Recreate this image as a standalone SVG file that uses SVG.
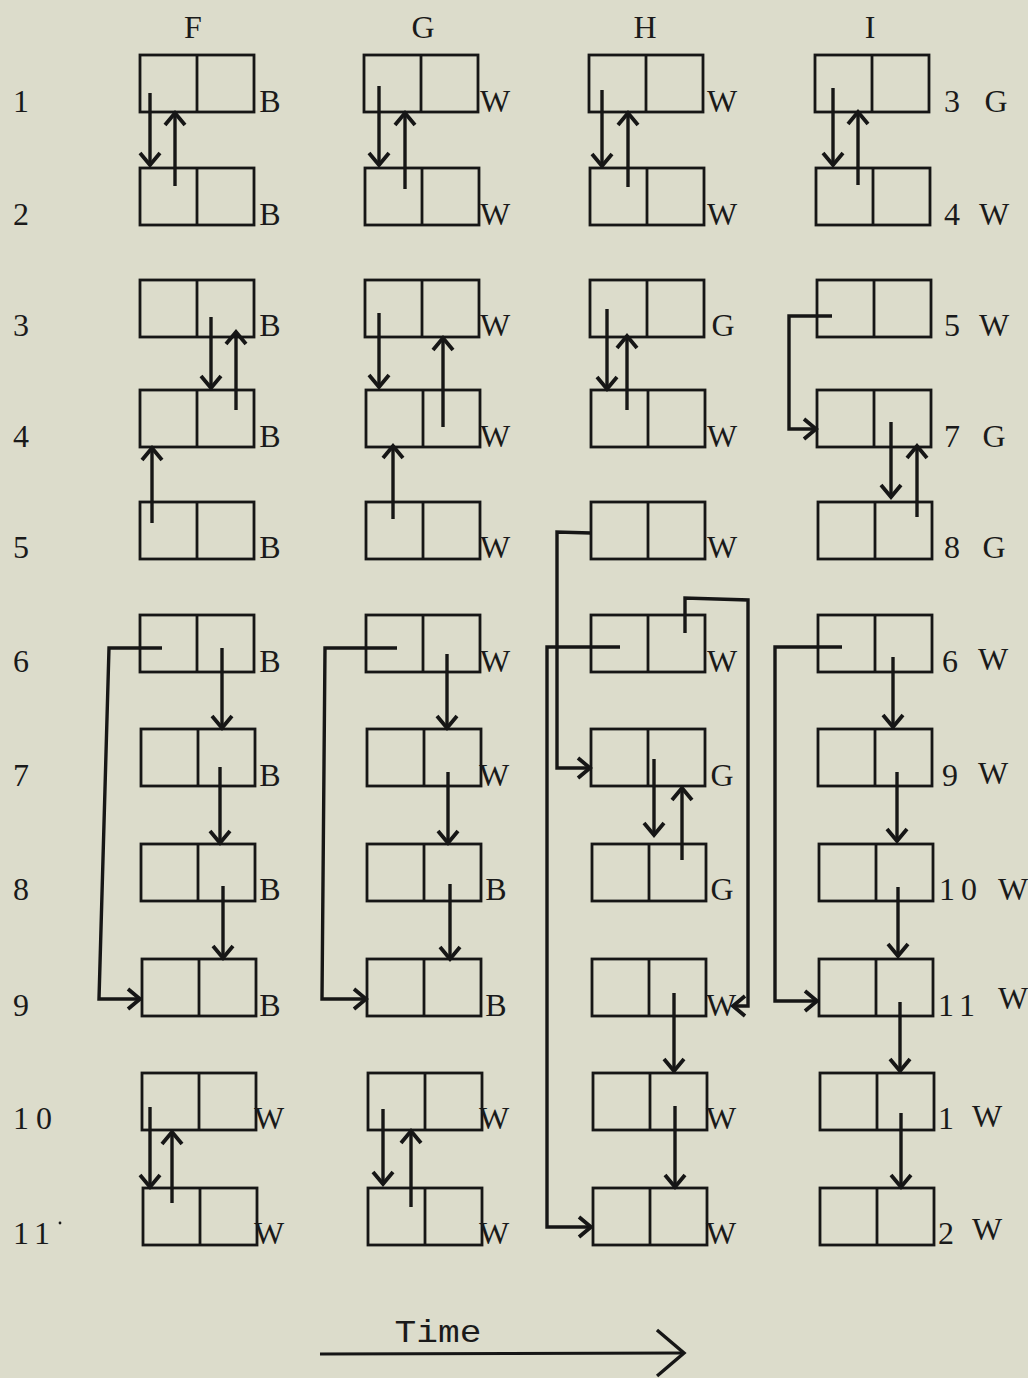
<svg xmlns="http://www.w3.org/2000/svg" width="1028" height="1378" viewBox="0 0 1028 1378">
<style>
.c path { fill: none; stroke: #161616; stroke-width: 3.4; marker-end: url(#ah); }
.c path.big { marker-end: url(#ahb); stroke-width: 3.2; }
text { font-family: "Liberation Serif", "DejaVu Serif", serif; font-size: 32px; fill: #1a1a1a; text-anchor: middle; }
</style>
<defs>
<marker id="ah" markerUnits="userSpaceOnUse" markerWidth="40" markerHeight="40" viewBox="-20 -20 40 40" refX="0" refY="0" orient="auto">
<path d="M-12,-10 L0,0 L-12,10" fill="none" stroke="#161616" stroke-width="3.8"/>
</marker>
<marker id="ahb" markerUnits="userSpaceOnUse" markerWidth="70" markerHeight="70" viewBox="-35 -35 70 70" refX="0" refY="0" orient="auto">
<path d="M-27,-23 L0,0 L-27,23" fill="none" stroke="#161616" stroke-width="3.4"/>
</marker>
<g id="cell" fill="none" stroke="#161616" stroke-width="2.8">
<rect x="0" y="0" width="114" height="57"/>
<line x1="57" y1="0" x2="57" y2="57"/>
</g>
</defs>
<rect width="1028" height="1378" fill="#dcdccb"/>

<g id="headers">
<text x="193" y="38">F</text>
<text x="423" y="38">G</text>
<text x="645" y="38">H</text>
<text x="870" y="38">I</text>
</g>

<g id="rowlabels">
<text x="21" y="112">1</text>
<text x="21" y="225">2</text>
<text x="21" y="336">3</text>
<text x="21" y="447">4</text>
<text x="21" y="558">5</text>
<text x="21" y="672">6</text>
<text x="21" y="786">7</text>
<text x="21" y="900">8</text>
<text x="21" y="1016">9</text>
<text x="21" y="1129">1</text><text x="44" y="1129">0</text>
<text x="21" y="1244">1</text><text x="42" y="1244">1</text>
<circle cx="60" cy="1223" r="1.4" fill="#1a1a1a"/>
</g>

<g id="colF">
<use href="#cell" x="140" y="55"/><use href="#cell" x="140" y="168"/><use href="#cell" x="140" y="280"/><use href="#cell" x="140" y="390"/><use href="#cell" x="140" y="502"/><use href="#cell" x="140" y="615"/><use href="#cell" x="141" y="729"/><use href="#cell" x="141" y="844"/><use href="#cell" x="142" y="959"/><use href="#cell" x="142" y="1073"/><use href="#cell" x="143" y="1188"/>
</g>
<g id="colG">
<use href="#cell" x="364" y="55"/><use href="#cell" x="365" y="168"/><use href="#cell" x="365" y="280"/><use href="#cell" x="366" y="390"/><use href="#cell" x="366" y="502"/><use href="#cell" x="366" y="615"/><use href="#cell" x="367" y="729"/><use href="#cell" x="367" y="844"/><use href="#cell" x="367" y="959"/><use href="#cell" x="368" y="1073"/><use href="#cell" x="368" y="1188"/>
</g>
<g id="colH">
<use href="#cell" x="589" y="55"/><use href="#cell" x="590" y="168"/><use href="#cell" x="590" y="280"/><use href="#cell" x="591" y="390"/><use href="#cell" x="591" y="502"/><use href="#cell" x="591" y="615"/><use href="#cell" x="591" y="729"/><use href="#cell" x="592" y="844"/><use href="#cell" x="592" y="959"/><use href="#cell" x="593" y="1073"/><use href="#cell" x="593" y="1188"/>
</g>
<g id="colI">
<use href="#cell" x="815" y="55"/><use href="#cell" x="816" y="168"/><use href="#cell" x="817" y="280"/><use href="#cell" x="817" y="390"/><use href="#cell" x="818" y="502"/><use href="#cell" x="818" y="615"/><use href="#cell" x="818" y="729"/><use href="#cell" x="819" y="844"/><use href="#cell" x="819" y="959"/><use href="#cell" x="820" y="1073"/><use href="#cell" x="820" y="1188"/>
</g>

<g id="labelsF">
<text x="270" y="112">B</text><text x="270" y="225">B</text><text x="270" y="336">B</text><text x="270" y="447">B</text><text x="270" y="558">B</text><text x="270" y="672">B</text><text x="270" y="786">B</text><text x="270" y="900">B</text><text x="270" y="1016">B</text><text x="269" y="1129">W</text><text x="269" y="1244">W</text>
</g>
<g id="labelsG">
<text x="495" y="112">W</text><text x="495" y="225">W</text><text x="495" y="336">W</text><text x="495" y="447">W</text><text x="495" y="558">W</text><text x="495" y="672">W</text><text x="494" y="786">W</text><text x="496" y="900">B</text><text x="496" y="1016">B</text><text x="494" y="1129">W</text><text x="494" y="1244">W</text>
</g>
<g id="labelsH">
<text x="722" y="112">W</text><text x="722" y="225">W</text><text x="723" y="336">G</text><text x="722" y="447">W</text><text x="722" y="558">W</text><text x="722" y="672">W</text><text x="722" y="786">G</text><text x="722" y="900">G</text><text x="721" y="1016">W</text><text x="721" y="1129">W</text><text x="721" y="1244">W</text>
</g>
<g id="labelsI">
<text x="952" y="112">3</text><text x="996" y="112">G</text>
<text x="952" y="225">4</text><text x="994" y="225">W</text>
<text x="952" y="336">5</text><text x="994" y="336">W</text>
<text x="952" y="447">7</text><text x="994" y="447">G</text>
<text x="952" y="558">8</text><text x="994" y="558">G</text>
<text x="950" y="672">6</text><text x="993" y="670">W</text>
<text x="950" y="786">9</text><text x="993" y="784">W</text>
<text x="947" y="900">1</text><text x="969" y="900">0</text><text x="1013" y="900">W</text>
<text x="946" y="1016">1</text><text x="967" y="1016">1</text><text x="1013" y="1009">W</text>
<text x="946" y="1129">1</text><text x="987" y="1127">W</text>
<text x="946" y="1244">2</text><text x="987" y="1240">W</text>
</g>

<g id="connectors" class="c">
<path d="M150,93 V165"/>
<path d="M175,186 V113"/>
<path d="M211,317 V388"/>
<path d="M236,410 V332"/>
<path d="M152,523 V448"/>
<path d="M162,648 L109,648 L99,999 L140,999"/>
<path d="M222,648 V728"/>
<path d="M220,767 V843"/>
<path d="M223,886 V958"/>
<path d="M150,1107 V1187"/>
<path d="M172,1203 V1132"/>

<path d="M379,86 V165"/>
<path d="M405,189 V113"/>
<path d="M379,313 V387"/>
<path d="M443,427 V338"/>
<path d="M393,519 V446"/>
<path d="M397,648 L325,648 L322,999 L366,999"/>
<path d="M447,654 V728"/>
<path d="M448,772 V843"/>
<path d="M450,884 V959"/>
<path d="M383,1109 V1184"/>
<path d="M411,1207 V1131"/>

<path d="M602,90 V166"/>
<path d="M628,187 V113"/>
<path d="M607,309 V389"/>
<path d="M627,410 V336"/>
<path d="M591,533 L557,532 L557,768 L590,768"/>
<path d="M620,647 L547,647 L547,1227 L591,1227"/>
<path d="M685,633 L685,598 L748,600 L748,1006 L733,1006"/>
<path d="M654,759 V835"/>
<path d="M682,860 V788"/>
<path d="M674,993 V1071"/>
<path d="M675,1106 V1187"/>

<path d="M833,88 V165"/>
<path d="M858,185 V112"/>
<path d="M832,316 L789,316 L789,429 L816,429"/>
<path d="M891,422 V497"/>
<path d="M917,517 V446"/>
<path d="M842,647 L775,647 L775,1001 L817,1001"/>
<path d="M893,657 V727"/>
<path d="M897,772 V841"/>
<path d="M898,887 V956"/>
<path d="M900,1002 V1071"/>
<path d="M901,1113 V1187"/>

<path class="big" d="M320,1354 L684,1353"/>
</g>

<g id="timelabel">
<text x="438" y="1342" textLength="87" lengthAdjust="spacingAndGlyphs" style="font-family:'Liberation Mono', monospace; font-size:32px">Time</text>
</g>
</svg>
